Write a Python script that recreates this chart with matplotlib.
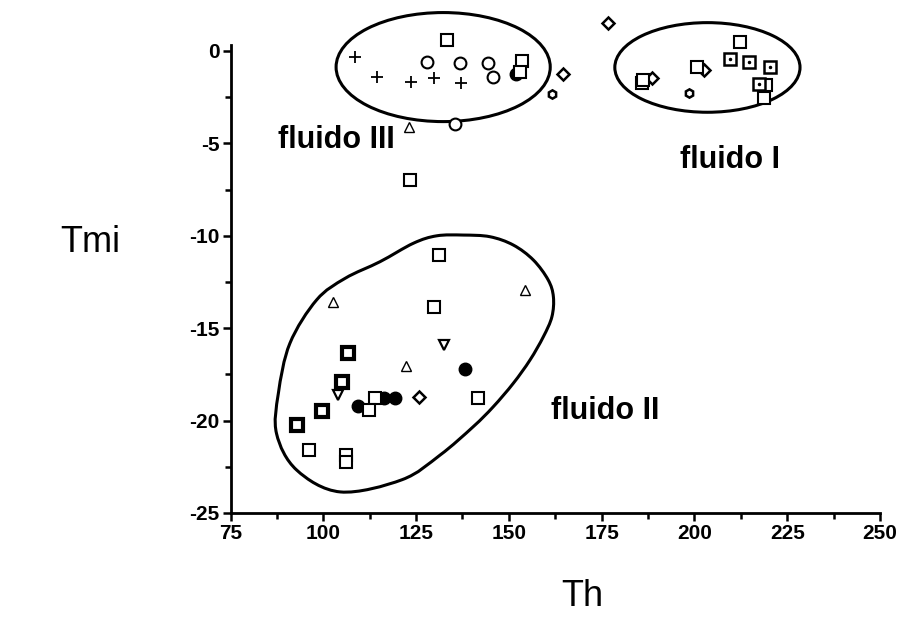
import numpy as np
import matplotlib
matplotlib.use("Agg")
import matplotlib.pyplot as plt
from matplotlib.patches import Ellipse, PathPatch
from matplotlib.path import Path

plt.rcParams['font.family'] = ['Liberation Sans', 'DejaVu Sans']
plt.rcParams['axes.unicode_minus'] = False

# ---- data (Th, Tmi) ----
sq_open_x = [133.4, 153.6, 153.0, 123.4, 212.4, 200.6, 185.8, 186.2, 219.2, 218.8,
             131.3, 129.7, 113.9, 112.4, 141.8, 96.2, 106.1, 106.1]
sq_open_y = [0.6, -0.52, -1.12, -6.98, 0.47, -0.88, -1.75, -1.57, -1.84, -2.56,
             -11.04, -13.84, -18.79, -19.43, -18.79, -21.59, -21.86, -22.22]
sq_dot_x = [209.7, 214.7, 220.4, 217.4]
sq_dot_y = [-0.45, -0.58, -0.85, -1.8]
sq_thick_x = [106.7, 105.0, 99.6, 93.0]
sq_thick_y = [-16.36, -17.9, -19.5, -20.24]
plus_x = [108.5, 114.6, 123.6, 129.9, 137.1]
plus_y = [-0.34, -1.42, -1.70, -1.48, -1.71]
circ_open_x = [127.9, 136.8, 144.5, 145.8, 135.4]
circ_open_y = [-0.58, -0.67, -0.67, -1.39, -3.95]
circ_fill_x = [151.9, 138.2, 116.4, 119.3, 109.4]
circ_fill_y = [-1.26, -17.22, -18.79, -18.79, -19.19]
diam_x = [176.7, 164.7, 202.6, 188.5, 125.9]
diam_y = [1.52, -1.24, -1.03, -1.48, -18.7]
hexa_x = [161.5, 198.6]
hexa_y = [-2.33, -2.29]
tri_x = [123.2, 102.5, 154.4, 122.3]
tri_y = [-4.13, -13.57, -12.93, -17.05]
tri_dn_x = [132.4, 104.0]
tri_dn_y = [-15.91, -18.61]

x_ticks = [75, 100, 125, 150, 175, 200, 225, 250]
y_ticks = [0, -5, -10, -15, -20, -25]

# group outlines (center Th, center Tmi, width, height)
fluido_III_ell = (132.3, -0.87, 57.7, 5.9)
fluido_I_ell = (203.5, -0.89, 49.9, 4.85)
fluido_II_outline = [(124.3, -10.4), (130.6, -10.0), (137.7, -9.96), (144.9, -10.05),
                     (151.2, -10.5), (156.6, -11.31), (160.6, -12.39), (162.0, -13.3),
                     (161.6, -14.38), (159.3, -15.46), (155.7, -16.72), (151.2, -17.98),
                     (145.8, -19.25), (140.4, -20.33), (131.5, -21.86), (121.2, -23.2),
                     (104.6, -23.86), (92.8, -22.67), (87.4, -20.7), (87.9, -18.52),
                     (91.0, -15.82), (98.2, -13.47), (105.9, -12.3), (115.3, -11.4)]

group_labels = ['fluido III', 'fluido I', 'fluido II']
group_label_pos = [(87.8, -4.82), (196.1, -5.9), (161.4, -19.48)]

fig = plt.figure(figsize=(9.11, 6.37), dpi=100)
ax = fig.add_axes([230.5 / 911, 1 - 513 / 637, (880 - 230.5) / 911, (513 - 14) / 637])
ax.set_xlim(75, 250)
ax.set_ylim(-25, 25 * (513 - 14) / (513 - 51) - 25)

for s in ['top', 'right']:
    ax.spines[s].set_visible(False)
for s in ['left', 'bottom']:
    ax.spines[s].set_linewidth(2.0)
ax.spines['left'].set_bounds(-25, 0.3)

ax.set_xticks(x_ticks)
ax.set_yticks(y_ticks)
ax.set_xticks(np.arange(87.5, 250, 25), minor=True)
ax.set_yticks(np.arange(-22.5, 0, 5), minor=True)
ax.tick_params(which='major', length=6, width=1.8, direction='out', labelsize=15, pad=2)
ax.tick_params(which='minor', length=4, width=1.8, direction='out')
for lab in ax.get_xticklabels() + ax.get_yticklabels():
    lab.set_fontweight('bold')

kw = dict(clip_on=False, linestyle='none')
ax.plot(plus_x, plus_y, marker='+', ms=9, mew=1.3, color='black', **kw)
ax.plot(circ_fill_x, circ_fill_y, marker='o', ms=9, color='black', **kw)
ax.plot(circ_open_x, circ_open_y, marker='o', ms=8.5, mfc='white', mec='black', mew=1.5, **kw)
ax.plot(diam_x, diam_y, marker='D', ms=6, mfc='white', mec='black', mew=1.8, **kw)
ax.plot(hexa_x, hexa_y, marker='h', ms=6, mfc='white', mec='black', mew=1.8, **kw)
ax.plot(tri_x, tri_y, marker='^', ms=7, mfc='white', mec='black', mew=1.0, **kw)
ax.plot(tri_dn_x, tri_dn_y, marker='v', ms=7, mfc='white', mec='black', mew=1.6, **kw)
ax.plot(sq_open_x, sq_open_y, marker='s', ms=8, mfc='white', mec='black', mew=1.5, **kw)
ax.plot(sq_dot_x, sq_dot_y, marker='s', ms=8, mfc='white', mec='black', mew=1.8, **kw)
ax.plot(sq_dot_x, sq_dot_y, marker='.', ms=3, color='black', **kw)
ax.plot(sq_thick_x, sq_thick_y, marker='s', ms=9, mfc='white', mec='black', mew=3.0, **kw)

for (cx, cy, w, h) in [fluido_III_ell, fluido_I_ell]:
    ax.add_patch(Ellipse((cx, cy), w, h, fill=False, lw=2.2, ec='black', clip_on=False))

# smooth closed curve (Catmull-Rom -> cubic Bezier) through the outline points
P = np.array(fluido_II_outline)
n = len(P)
verts = [P[0]]
codes = [Path.MOVETO]
for i in range(n):
    p0, p1, p2, p3 = P[i - 1], P[i], P[(i + 1) % n], P[(i + 2) % n]
    c1 = p1 + (p2 - p0) / 6.0
    c2 = p2 - (p3 - p1) / 6.0
    verts += [c1, c2, p2]
    codes += [Path.CURVE4] * 3
ax.add_patch(PathPatch(Path(verts, codes), fill=False, lw=2.2, ec='black', clip_on=False))

for txt, (tx, ty) in zip(group_labels, group_label_pos):
    ax.text(tx, ty, txt, fontsize=22, fontweight='bold', va='center', ha='left')

fig.text(90 / 911, 1 - 243 / 637, 'Tmi', fontsize=26, ha='center', va='center')
fig.text(582 / 911, 1 - 597 / 637, 'Th', fontsize=26, ha='center', va='center')

fig.savefig('out.png', dpi=100)
